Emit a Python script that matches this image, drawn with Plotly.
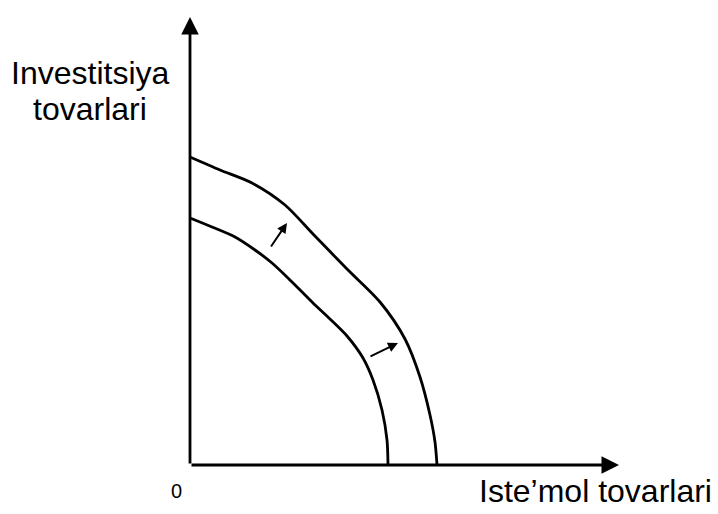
import plotly.graph_objects as go

# Production possibility frontiers (consumer goods on x, investment goods on y)
inner_x = [0.0, 2.2, 4.5, 6.5, 8.2, 9.8, 12.3, 14.0, 15.7, 17.3, 18.3, 19.2, 19.7, 19.8]
inner_y = [24.7, 23.8, 22.8, 21.5, 20.2, 18.7, 16.2, 14.6, 12.9, 10.7, 8.5, 5.5, 2.5, 0.0]

outer_x = [0.0, 3.0, 6.2, 9.5, 12.3, 15.7, 19.0, 21.5, 23.0, 24.0, 24.5, 24.7]
outer_y = [30.8, 29.5, 28.2, 26.0, 23.1, 19.6, 16.3, 12.6, 8.8, 5.0, 2.3, 0.0]

# Outward shift arrows: (tail_x, tail_y) -> (head_x, head_y)
shift_tail_x = [8.0, 17.9]
shift_tail_y = [21.7, 10.8]
shift_head_x = [9.7, 20.8]
shift_head_y = [24.2, 12.2]

# Axis extents (arrow tips)
x_axis_end = 42.9
y_axis_end = 44.8

y_title_lines = ["Investitsiya", "tovarlari"]
x_title = "Iste\u2019mol tovarlari"
origin_label = "0"

FONT = "Liberation Sans, Arial, sans-serif"

fig = go.Figure()
for xs, ys in [(inner_x, inner_y), (outer_x, outer_y)]:
    fig.add_trace(go.Scatter(
        x=xs, y=ys, mode="lines",
        line=dict(color="black", width=2.8, shape="spline", smoothing=0.8),
        hoverinfo="skip", showlegend=False,
    ))

annotations = []
# Axes drawn as arrows from the origin
annotations.append(dict(x=x_axis_end, y=0, ax=0, ay=0, xref="x", yref="y",
                        axref="x", ayref="y", text="", showarrow=True,
                        arrowhead=2, arrowsize=1.25, arrowwidth=2.8,
                        arrowcolor="black"))
annotations.append(dict(x=0, y=y_axis_end, ax=0, ay=0, xref="x", yref="y",
                        axref="x", ayref="y", text="", showarrow=True,
                        arrowhead=2, arrowsize=1.25, arrowwidth=2.8,
                        arrowcolor="black"))
for tx, ty, hx, hy in zip(shift_tail_x, shift_tail_y, shift_head_x, shift_head_y):
    annotations.append(dict(x=hx, y=hy, ax=tx, ay=ty, xref="x", yref="y",
                            axref="x", ayref="y", text="", showarrow=True,
                            arrowhead=2, arrowsize=1.0, arrowwidth=2.0,
                            arrowcolor="black"))

# Axis titles and origin label
annotations.append(dict(x=-10.0, y=39.2, xref="x", yref="y", text=y_title_lines[0],
                        showarrow=False, font=dict(family=FONT, size=32, color="black"),
                        xanchor="center", yanchor="middle"))
annotations.append(dict(x=-10.0, y=35.6, xref="x", yref="y", text=y_title_lines[1],
                        showarrow=False, font=dict(family=FONT, size=32, color="black"),
                        xanchor="center", yanchor="middle"))
annotations.append(dict(x=40.5, y=-2.6, xref="x", yref="y", text=x_title,
                        showarrow=False, font=dict(family=FONT, size=32, color="black"),
                        xanchor="center", yanchor="middle"))
annotations.append(dict(x=-1.4, y=-2.6, xref="x", yref="y", text=origin_label,
                        showarrow=False, font=dict(family=FONT, size=20, color="black"),
                        xanchor="center", yanchor="middle"))

fig.update_layout(
    width=718, height=514,
    margin=dict(l=0, r=0, t=0, b=0),
    paper_bgcolor="white", plot_bgcolor="white",
    xaxis=dict(range=[-19.0, 52.8], visible=False, fixedrange=True),
    yaxis=dict(range=[-4.9, 46.5], visible=False, fixedrange=True),
    annotations=annotations,
    showlegend=False,
)

fig.write_html("out.html", config={"displayModeBar": False})
